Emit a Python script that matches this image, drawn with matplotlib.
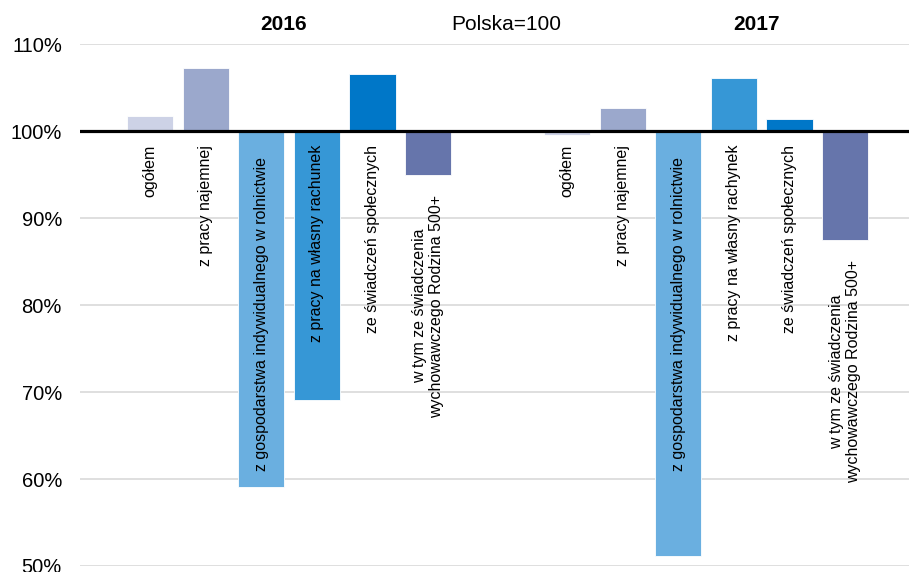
import matplotlib.pyplot as plt
import numpy as np

plt.rcParams['font.family'] = ['Liberation Sans', 'DejaVu Sans']

# Polska = 100, values in %
labels_2016 = ["ogółem", "z pracy najemnej", "z gospodarstwa indywidualnego w rolnictwie",
               "z pracy na własny rachunek", "ze świadczeń społecznych",
               "w tym ze świadczenia\nwychowawczego Rodzina 500+"]
labels_2017 = ["ogółem", "z pracy najemnej", "z gospodarstwa indywidualnego w rolnictwie",
               "z pracy na własny rachynek", "ze świadczeń społecznych",
               "w tym ze świadczenia\nwychowawczego Rodzina 500+"]
values_2016 = [101.7, 107.3, 59.1, 69.1, 106.6, 95.0]
values_2017 = [99.6, 102.7, 51.2, 106.1, 101.4, 87.5]
yticks = [50, 60, 70, 80, 90, 100, 110]

colors = ['#CDD2E6', '#9BA8CC', '#6AAFE0', '#3697D6', '#0077C8', '#6675AB']

fig = plt.figure(figsize=(9.09, 5.72), dpi=100)
ax = fig.add_axes([0.088, 0.0105, 0.912, 0.9125])

x1 = np.arange(6)
x2 = np.arange(6) + 7.5
width = 0.83

for xs, vals, labs in [(x1, values_2016, labels_2016), (x2, values_2017, labels_2017)]:
    heights = [v - 100 for v in vals]
    ax.bar(xs, heights, bottom=100, width=width, color=colors,
           edgecolor='white', linewidth=0.6, zorder=2)
    for i, (x, v, lab) in enumerate(zip(xs, vals, labs)):
        if i == 5:
            y = v - 2.3   # label below the bar end
        elif i == 2:
            y = 97.0
        else:
            y = 98.4
        ax.text(x, y, lab, rotation=90, ha='center', va='top',
                multialignment='center', fontsize=11.5, color='black', zorder=3)

ax.axhline(100, color='black', linewidth=2.3, zorder=4)

ax.set_ylim(50, 110)
ax.set_xlim(-1.26, 13.65)
ax.set_yticks(yticks)
ax.set_yticklabels([f"{t}%" for t in yticks], fontsize=14.5)
ax.set_xticks([])
ax.tick_params(axis='y', length=0, pad=13)
ax.grid(True, axis='y', color='#D9D9D9', linewidth=1.2, zorder=0)
ax.set_axisbelow(True)
for s in ax.spines.values():
    s.set_visible(False)

ax.text(2.4, 112.3, "2016", fontsize=15, fontweight='bold', ha='center', va='center', clip_on=False)
ax.text(6.4, 112.3, "Polska=100", fontsize=15, ha='center', va='center', clip_on=False)
ax.text(10.9, 112.3, "2017", fontsize=15, fontweight='bold', ha='center', va='center', clip_on=False)

plt.savefig("out.png", dpi=100)
